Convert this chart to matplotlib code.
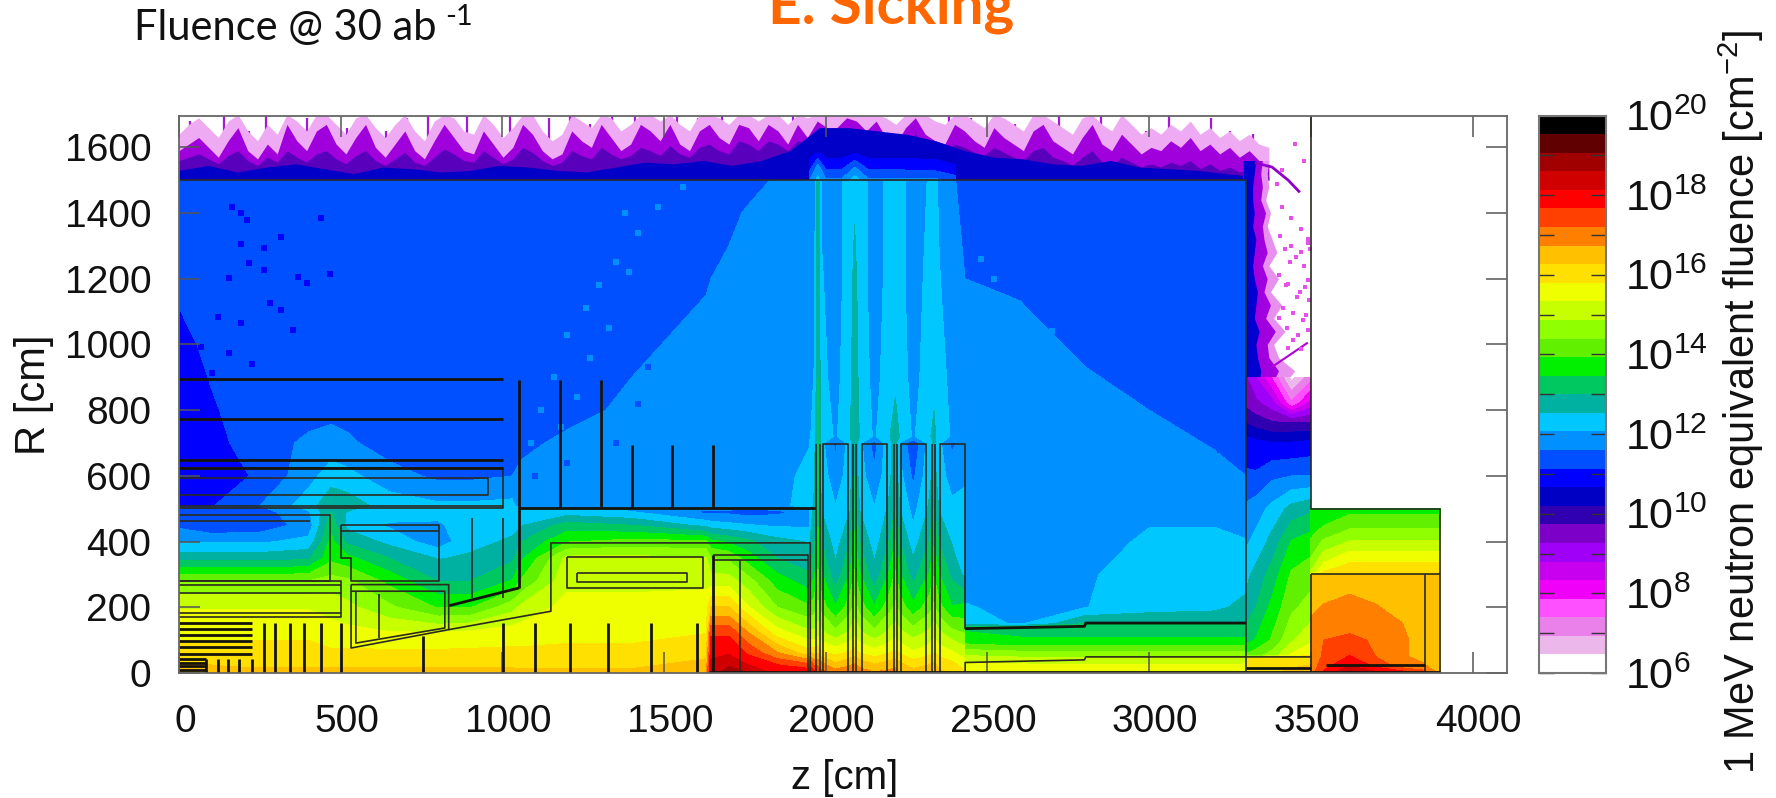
import numpy as np
import matplotlib
matplotlib.use('Agg')
from matplotlib import pyplot as plt
from matplotlib import transforms
from matplotlib.colors import ListedColormap, BoundaryNorm

plt.rcParams['font.family'] = ['Liberation Sans', 'DejaVu Sans']

# colour scale, 30 bands from 1e6 to 1e20
band_colors = ['#ffffff', '#ecb8ec', '#ea80ea', '#ff50ff', '#f000f8', '#c800f0', '#a000f8', '#7c00c8',
               '#3000b0', '#0000c4', '#0000ff', '#0050ff', '#0090ff', '#00c8ff', '#00b0a0', '#00c860',
               '#00f000', '#60f000', '#90ff00', '#c8ff00', '#f0ff00', '#ffe000', '#ffc000', '#ff8000',
               '#ff4000', '#ff0000', '#d00000', '#a00000', '#600000', '#000000']
levels = np.linspace(6, 20, 31)
cmap = ListedColormap(band_colors)
norm = BoundaryNorm(levels, cmap.N)

# log10(fluence), z 0..1950
zA = [0, 100, 250, 400, 470, 520, 650, 800, 900, 1030, 1060, 1200, 1400, 1630, 1645, 1700, 1760, 1850, 1950]
rA = [0, 20, 60, 120, 200, 280, 350, 400, 450, 490, 510, 600, 700, 800, 1000, 1200, 1400, 1500]
vA = [
    [16.7, 16.6, 16.5, 16.5, 16.5, 16.5, 16.5, 16.5, 16.5, 16.5, 16.4, 16.4, 16.4, 16.6, 18.4, 18.8, 18.6, 18.0, 18.0],
    [16.4, 16.3, 16.2, 16.2, 16.2, 16.2, 16.2, 16.2, 16.2, 16.2, 16.2, 16.2, 16.2, 16.5, 18.3, 18.6, 18.2, 17.8, 17.5],
    [16.0, 16.0, 16.0, 16.0, 15.9, 15.9, 15.9, 15.9, 15.9, 15.9, 15.9, 15.9, 15.9, 16.1, 18.0, 18.1, 17.6, 16.8, 16.0],
    [15.7, 15.7, 15.7, 15.7, 15.5, 15.5, 15.4, 15.4, 15.5, 15.6, 15.6, 15.7, 15.7, 15.8, 17.6, 17.6, 16.8, 15.6, 15.0],
    [15.3, 15.3, 15.3, 15.3, 15.2, 15.0, 14.5, 13.9, 13.9, 14.7, 15.0, 15.5, 15.5, 15.6, 16.3, 16.3, 15.4, 14.4, 14.0],
    [14.4, 14.4, 14.4, 14.4, 14.6, 14.5, 13.8, 13.0, 13.0, 13.5, 14.0, 15.2, 15.2, 15.2, 15.1, 15.1, 14.6, 13.7, 13.2],
    [12.8, 12.8, 12.8, 12.9, 13.8, 13.6, 13.0, 12.5, 12.6, 12.9, 13.4, 15.0, 15.0, 14.9, 14.4, 14.3, 13.7, 13.0, 12.7],
    [12.0, 12.0, 12.0, 12.2, 13.6, 12.9, 12.4, 11.8, 12.4, 12.6, 13.0, 13.9, 14.1, 14.0, 13.6, 13.4, 13.1, 12.7, 12.5],
    [11.5, 11.2, 11.3, 11.8, 13.3, 12.4, 12.0, 12.0, 12.3, 12.4, 12.5, 13.2, 13.0, 12.4, 12.3, 12.2, 12.1, 12.0, 12.0],
    [11.4, 11.4, 11.4, 12.0, 13.0, 12.5, 12.3, 12.2, 12.3, 12.3, 12.3, 12.3, 12.1, 11.5, 11.5, 11.5, 11.4, 11.5, 11.8],
    [11.1, 11.1, 11.6, 12.3, 12.9, 12.8, 12.3, 12.15, 12.15, 12.2, 11.7, 11.85, 11.85, 11.85, 11.85, 11.85, 11.85, 11.9, 12.3],
    [10.9, 10.9, 11.2, 11.9, 12.3, 12.2, 11.8, 11.5, 11.5, 11.6, 11.7, 11.85, 11.85, 11.85, 11.85, 11.85, 11.85, 11.9, 12.2],
    [10.9, 11.0, 11.35, 11.7, 11.8, 11.7, 11.35, 11.35, 11.35, 11.4, 11.5, 11.7, 11.85, 11.85, 11.85, 11.85, 11.85, 11.9, 12.05],
    [10.9, 11.1, 11.3, 11.4, 11.45, 11.4, 11.35, 11.35, 11.35, 11.35, 11.35, 11.45, 11.7, 11.85, 11.85, 11.85, 11.85, 11.9, 12.0],
    [11.05, 11.2, 11.3, 11.3, 11.35, 11.35, 11.35, 11.35, 11.35, 11.35, 11.35, 11.4, 11.5, 11.75, 11.75, 11.8, 11.85, 11.85, 11.9],
    [11.2, 11.25, 11.3, 11.3, 11.35, 11.35, 11.35, 11.35, 11.35, 11.35, 11.35, 11.35, 11.4, 11.55, 11.6, 11.7, 11.75, 11.85, 11.9],
    [11.2, 11.25, 11.3, 11.35, 11.35, 11.35, 11.35, 11.35, 11.35, 11.35, 11.35, 11.35, 11.35, 11.35, 11.4, 11.5, 11.65, 11.8, 11.85],
    [11.2, 11.3, 11.35, 11.35, 11.35, 11.35, 11.35, 11.35, 11.35, 11.35, 11.35, 11.35, 11.35, 11.35, 11.35, 11.35, 11.45, 11.65, 11.85],
]

# toroid gaps and boxes
zB = [1950, 1965, 1976, 1987, 2030, 2075, 2089, 2105, 2150, 2195, 2215, 2230, 2270, 2320, 2335, 2350, 2390, 2431]
rB = [0, 30, 70, 120, 200, 300, 400, 500, 600, 700, 720, 900, 1200, 1500]
vB = [
    [18.0, 17.8, 17.7, 17.4, 17.0, 17.1, 17.2, 17.0, 16.8, 16.9, 17.0, 16.7, 16.5, 16.6, 16.6, 16.4, 16.2, 15.9],
    [17.5, 17.0, 17.0, 16.8, 16.3, 16.6, 16.7, 16.5, 16.2, 16.4, 16.5, 16.3, 16.0, 16.2, 16.3, 16.1, 15.9, 15.5],
    [16.0, 15.9, 16.0, 15.7, 15.5, 15.7, 15.9, 15.6, 15.4, 15.6, 15.8, 15.6, 15.3, 15.5, 15.7, 15.5, 15.3, 15.0],
    [15.0, 15.0, 15.2, 15.0, 14.6, 15.0, 15.2, 15.0, 14.6, 15.0, 15.2, 15.0, 14.7, 15.0, 15.2, 15.0, 14.6, 14.4],
    [14.0, 14.2, 14.5, 14.2, 13.5, 14.2, 14.6, 14.2, 13.5, 14.2, 14.5, 14.2, 13.6, 14.2, 14.5, 14.1, 13.5, 13.6],
    [13.1, 13.4, 14.0, 13.5, 12.7, 13.5, 14.0, 13.5, 12.7, 13.5, 14.0, 13.5, 12.8, 13.5, 13.9, 13.5, 12.9, 12.4],
    [12.5, 12.9, 13.6, 13.0, 12.3, 13.0, 13.6, 13.0, 12.3, 13.0, 13.5, 13.0, 12.3, 13.0, 13.4, 13.0, 12.5, 12.3],
    [12.4, 12.6, 13.3, 12.5, 12.1, 12.5, 13.2, 12.5, 12.1, 12.6, 13.0, 12.5, 11.9, 12.6, 13.0, 12.5, 12.2, 12.2],
    [12.2, 12.5, 13.1, 12.3, 11.8, 12.3, 13.0, 12.3, 11.7, 12.4, 12.8, 12.2, 11.5, 12.4, 12.7, 12.3, 11.85, 12.0],
    [12.1, 12.4, 13.1, 12.2, 11.5, 12.3, 12.9, 12.2, 11.4, 12.4, 12.7, 12.0, 11.2, 12.3, 12.6, 12.2, 11.5, 11.85],
    [12.0, 12.3, 13.1, 12.4, 12.0, 12.5, 12.9, 12.5, 12.0, 12.5, 12.7, 12.5, 12.0, 12.5, 12.6, 12.4, 12.0, 11.85],
    [11.9, 12.1, 13.0, 12.2, 11.9, 12.4, 12.8, 12.4, 11.9, 12.3, 12.45, 12.3, 11.9, 12.3, 12.45, 12.3, 11.9, 11.8],
    [11.85, 11.95, 12.9, 12.1, 11.85, 12.3, 12.7, 12.3, 11.85, 12.2, 12.4, 12.2, 11.85, 12.2, 12.4, 12.1, 11.8, 11.6],
    [11.85, 11.9, 12.8, 12.0, 11.85, 12.3, 12.4, 12.3, 11.85, 12.2, 12.3, 12.2, 11.85, 12.1, 12.2, 12.0, 11.7, 11.35],
]

# big hall and shaft to the right of the boxes
zC = [2431, 2600, 2800, 3000, 3200, 3300]
rC = [0, 30, 60, 90, 140, 150, 200, 300, 400, 500, 600, 800, 1000, 1200, 1500]
vC = [
    [15.9, 15.7, 15.6, 15.6, 15.6, 15.7],
    [15.4, 15.3, 15.3, 15.3, 15.3, 15.3],
    [14.7, 14.6, 14.6, 14.6, 14.6, 14.6],
    [13.9, 13.7, 13.7, 13.7, 13.7, 13.7],
    [13.3, 13.1, 13.1, 13.1, 13.1, 13.1],
    [12.3, 12.0, 13.0, 13.0, 13.0, 13.0],
    [12.1, 11.95, 12.05, 12.3, 12.4, 12.7],
    [11.85, 11.85, 12.0, 12.3, 12.3, 12.3],
    [11.85, 11.85, 11.85, 12.15, 12.2, 12.1],
    [11.85, 11.85, 11.85, 11.95, 11.9, 11.7],
    [11.85, 11.85, 11.85, 11.8, 11.7, 11.6],
    [11.85, 11.8, 11.7, 11.6, 11.45, 11.35],
    [11.8, 11.7, 11.55, 11.4, 11.3, 11.3],
    [11.6, 11.55, 11.4, 11.3, 11.3, 11.3],
    [11.35, 11.3, 11.3, 11.3, 11.3, 11.2],
]

zD = [3300, 3330, 3380, 3440, 3500]
rD = [0, 45, 55, 100, 200, 300, 400, 500, 600, 700, 760, 820, 900]
vD = [
    [15.9, 16.0, 16.2, 16.4, 16.6],
    [15.8, 15.8, 15.9, 16.0, 16.0],
    [14.0, 14.2, 14.6, 15.4, 15.8],
    [13.3, 13.5, 14.0, 14.8, 15.2],
    [12.7, 13.0, 13.6, 14.3, 14.6],
    [12.4, 12.7, 13.2, 14.0, 14.2],
    [12.0, 12.2, 12.7, 13.5, 13.7],
    [11.7, 11.85, 12.2, 12.7, 12.9],
    [11.2, 11.2, 11.5, 11.6, 11.6],
    [10.9, 10.8, 10.7, 10.7, 10.8],
    [10.2, 10.0, 9.8, 9.8, 9.8],
    [9.6, 9.4, 9.0, 7.5, 8.5],
    [9.3, 8.8, 7.8, 6.3, 7.2],
]

# forward block
zF = [3500, 3540, 3620, 3700, 3780, 3850, 3900]
rF = [0, 20, 50, 100, 150, 220, 295, 305, 325, 360, 400, 430, 475, 500]
vF = [
    [17.0, 17.8, 18.8, 18.3, 18.0, 17.5, 16.6],
    [16.9, 17.5, 18.2, 17.6, 17.0, 16.8, 16.5],
    [16.8, 17.3, 17.7, 17.2, 16.8, 16.6, 16.5],
    [16.85, 17.2, 17.3, 17.15, 16.85, 16.5, 16.4],
    [16.8, 16.95, 17.05, 16.95, 16.75, 16.45, 16.4],
    [16.6, 16.7, 16.8, 16.7, 16.5, 16.4, 16.4],
    [16.4, 16.45, 16.55, 16.45, 16.4, 16.35, 16.35],
    [15.0, 15.9, 16.1, 16.1, 16.1, 16.1, 16.1],
    [14.7, 15.5, 15.95, 15.95, 15.95, 15.95, 15.95],
    [14.3, 15.0, 15.5, 15.5, 15.5, 15.5, 15.5],
    [14.0, 14.5, 14.9, 14.9, 14.9, 14.9, 14.9],
    [13.8, 14.1, 14.5, 14.5, 14.5, 14.5, 14.5],
    [13.6, 13.7, 14.0, 14.0, 14.0, 14.0, 14.0],
    [13.5, 13.6, 13.8, 13.8, 13.8, 13.8, 13.8],
]

# bumps above the gaps, just over the hall ceiling
zG = [1950, 1975, 2000, 2050, 2090, 2130, 2200, 2340, 2400]
rG = [1500, 1540, 1580]
vG = [
    [11.6, 12.2, 11.7, 11.7, 12.3, 11.7, 11.7, 11.7, 11.4],
    [10.9, 11.8, 11.0, 11.0, 11.6, 11.0, 11.0, 10.9, 10.7],
    [10.5, 10.8, 10.5, 10.5, 10.7, 10.5, 10.5, 10.5, 10.5],
]

# upper edge of the particle fringe over the ceiling, z 0..3370
fringe_pink = [1640, 1670, 1690, 1660, 1630, 1680, 1700, 1650, 1620, 1670, 1640, 1700, 1680, 1650, 1700, 1700, 1670,
               1640, 1690, 1700, 1660, 1630, 1670, 1700, 1650, 1620, 1680, 1700, 1690, 1650, 1640, 1700, 1670, 1630,
               1660, 1700, 1700, 1650, 1620, 1640, 1700, 1680, 1660, 1700, 1690, 1650, 1670, 1700, 1700, 1680, 1700,
               1670, 1650, 1700, 1700, 1690, 1670, 1700, 1700, 1680, 1700, 1700, 1670, 1700, 1690, 1700, 1700, 1700,
               1700, 1700, 1700, 1700, 1690, 1670, 1700, 1700, 1700, 1680, 1670, 1700, 1700, 1680, 1660, 1700, 1690,
               1670, 1650, 1700, 1700, 1680, 1660, 1640, 1690, 1700, 1670, 1650, 1700, 1670, 1640, 1660, 1640, 1670,
               1650, 1680, 1640, 1660, 1630, 1650, 1620, 1640, 1610, 1600]
fringe_purple = [1590, 1610, 1630, 1600, 1570, 1620, 1660, 1590, 1565, 1610, 1580, 1670, 1620, 1590, 1650, 1670, 1610,
                 1580, 1630, 1670, 1600, 1570, 1610, 1650, 1590, 1565, 1620, 1670, 1630, 1590, 1580, 1650, 1610, 1570,
                 1600, 1670, 1640, 1590, 1565, 1580, 1650, 1620, 1600, 1670, 1630, 1590, 1610, 1670, 1650, 1620, 1670,
                 1610, 1590, 1650, 1670, 1630, 1610, 1670, 1660, 1620, 1670, 1650, 1610, 1670, 1630, 1680, 1660, 1660,
                 1690, 1680, 1650, 1680, 1630, 1610, 1660, 1690, 1640, 1620, 1610, 1670, 1650, 1620, 1600, 1660, 1630,
                 1610, 1590, 1650, 1670, 1620, 1600, 1580, 1630, 1670, 1610, 1590, 1640, 1610, 1580, 1600, 1590, 1620,
                 1600, 1630, 1590, 1610, 1580, 1600, 1570, 1590, 1560, 1550]
fringe_violet = [1560, 1570, 1580, 1565, 1550, 1575, 1590, 1560, 1545, 1570, 1555, 1590, 1570, 1555, 1580, 1590, 1565,
                 1550, 1575, 1590, 1560, 1545, 1565, 1585, 1555, 1545, 1570, 1595, 1580, 1560, 1555, 1590, 1570, 1550,
                 1565, 1600, 1585, 1560, 1545, 1555, 1590, 1575, 1565, 1600, 1580, 1565, 1575, 1600, 1590, 1575, 1605,
                 1580, 1570, 1600, 1610, 1590, 1580, 1620, 1610, 1590, 1620, 1610, 1590, 1620, 1610, 1640, 1630, 1640,
                 1660, 1650, 1630, 1650, 1610, 1590, 1620, 1640, 1610, 1590, 1585, 1610, 1600, 1585, 1575, 1600, 1585,
                 1570, 1560, 1590, 1600, 1570, 1560, 1545, 1570, 1590, 1555, 1545, 1570, 1555, 1540, 1550, 1540, 1555,
                 1545, 1560, 1535, 1550, 1530, 1540, 1525, 1530, 1520, 1510]
fringe_blue = [1530, 1545, 1525, 1540, 1550, 1535, 1520, 1540, 1535, 1525, 1530, 1545, 1540, 1530, 1525, 1540, 1555,
               1550, 1560, 1545, 1560, 1590, 1660, 1660, 1650, 1640, 1620, 1590, 1570, 1565, 1550, 1545, 1560, 1540,
               1535, 1530, 1520, 1510]
spike_z = [35, 90, 140, 215, 270, 335, 395, 450, 520, 575, 640, 705, 770, 835, 890, 960, 1025, 1080, 1145, 1210, 1270,
           1340, 1410, 1475, 1540, 1605, 1680, 1750, 1825, 1900, 2120, 2270, 2380, 2450, 2520, 2585, 2650, 2720, 2785,
           2850, 2920, 2990, 3060, 3130, 3190, 3250, 3320]
spike_top = [1680, 1660, 1700, 1650, 1700, 1670, 1690, 1700, 1660, 1700, 1650, 1690, 1700, 1670, 1700, 1660, 1700,
             1680, 1690, 1700, 1670, 1700, 1700, 1680, 1700, 1690, 1700, 1700, 1680, 1700, 1700, 1700, 1700, 1690,
             1700, 1670, 1700, 1700, 1660, 1700, 1680, 1650, 1700, 1640, 1690, 1650, 1640]
spike_base = [1600, 1600, 1610, 1590, 1610, 1600, 1600, 1610, 1590, 1610, 1590, 1600, 1610, 1600, 1620, 1600, 1620,
              1620, 1620, 1630, 1610, 1630, 1640, 1630, 1640, 1640, 1640, 1650, 1640, 1650, 1660, 1650, 1640, 1640,
              1630, 1620, 1620, 1620, 1610, 1620, 1610, 1600, 1610, 1590, 1600, 1590, 1580]

# fringe along the outer wall of the hall, right edge in z for R 880..1560
side_blue = [3340, 3345, 3335, 3330, 3340, 3325, 3330, 3335, 3325, 3320, 3325, 3330, 3320, 3325, 3320, 3320, 3325, 3330]
side_purple = [3380, 3400, 3370, 3365, 3390, 3360, 3375, 3355, 3365, 3350, 3365, 3355, 3350, 3360, 3345, 3350, 3345, 3350]
side_pink = [3420, 3450, 3400, 3385, 3420, 3385, 3410, 3375, 3400, 3370, 3395, 3380, 3365, 3375, 3360, 3370, 3365, 3370]
spur_z = [3331, 3380, 3430, 3463]
spur_r = [1552, 1540, 1500, 1466]
spur2_z = [3379, 3430, 3488]
spur2_r = [931, 965, 1004]
dots_z = [3410, 3440, 3470, 3490, 3420, 3455, 3480, 3400, 3430, 3465, 3495, 3415, 3445, 3475, 3425, 3460, 3490, 3405,
          3435, 3485, 3395, 3450, 3478, 3412, 3468, 3497, 3438, 3422, 3458, 3483, 3402, 3445, 3492, 3470, 3430, 3490]
dots_r = [1420, 1385, 1350, 1310, 1290, 1265, 1240, 1210, 1185, 1160, 1135, 1110, 1095, 1075, 1050, 1030, 1195, 1330,
          1250, 1090, 1490, 1610, 1560, 1530, 1280, 1290, 1300, 1180, 1145, 1175, 1080, 1015, 1045, 985, 990, 1320]

# single blue cells in the upper left and along the colour edges
dark_z = [192, 165, 209, 440, 316, 192, 263, 218, 263, 467, 369, 396, 156, 121, 192, 280, 316, 351, 67, 156, 227, 103]
dark_r = [1400, 1420, 1380, 1385, 1328, 1307, 1293, 1247, 1227, 1216, 1206, 1186, 1201, 1085, 1064, 1125, 1104, 1044,
          993, 973, 942, 912]
light_z = [1380, 1420, 1480, 1350, 1300, 1390, 1260, 1330, 1200, 1270, 1160, 1230, 1120, 1180, 1090, 1140, 1560, 2560,
           2620, 2700, 2680, 2760, 2840, 2900, 2960, 3040, 3100, 3180, 2480, 2520, 2640]
light_r = [1400, 1340, 1420, 1250, 1180, 1220, 1110, 1050, 1030, 960, 900, 840, 800, 750, 700, 640, 1480, 1120, 1050,
           1040, 960, 920, 870, 820, 800, 740, 690, 640, 1260, 1200, 980]
mid_z = [1560, 1620, 1700, 1500, 1450, 1420, 1350, 1200, 1100, 2510, 2580, 2650, 2730, 2810, 2880, 2960, 3060, 3140, 3220]
mid_r = [1200, 1260, 1420, 1050, 930, 820, 700, 640, 600, 1360, 1280, 1200, 1130, 1040, 960, 880, 820, 740, 680]

# detector outlines (z, R), thin and thick
thin_lines = [
    [(0, 1500), (3300, 1500), (3300, 0)],
    [(3500, 1700), (3500, 500), (3900, 500), (3900, 0)],
    [(3500, 300), (3900, 300)], [(3853, 0), (3853, 300)], [(3500, 0), (3500, 300)],
    [(0, 624), (1003, 624), (1003, 502), (0, 502)], [(0, 507), (1003, 507)],
    [(0, 594), (955, 594), (955, 543), (0, 543)],
    [(0, 482), (467, 482), (467, 281), (0, 281)], [(0, 462), (405, 462)],
    [(0, 279), (502, 279), (502, 170), (0, 170)], [(0, 269), (502, 269)], [(0, 244), (502, 244)], [(0, 183), (502, 183)],
    [(502, 452), (804, 452), (804, 281), (532, 281), (532, 349), (502, 349), (502, 452)], [(502, 431), (804, 431)],
    [(532, 269), (834, 269), (834, 132), (532, 76), (532, 269)],
    [(532, 249), (822, 249), (822, 137), (547, 91), (547, 249)],
    [(834, 132), (1150, 188), (1150, 396), (1952, 396), (1952, 0)],
    [(618, 107), (618, 240)],
    [(905, 228), (905, 472)], [(1003, 228), (1003, 472)],
    [(1200, 352), (1620, 352), (1620, 259), (1200, 259), (1200, 352)],
    [(1230, 305), (1571, 305), (1571, 277), (1230, 277), (1230, 305)],
    [(1652, 358), (1945, 358), (1945, 0)], [(1652, 345), (1945, 345)], [(1736, 0), (1736, 345)],
    [(1969, 0), (1969, 697)], [(1983, 0), (1983, 697)],
    [(1992, 0), (1992, 697), (2069, 697), (2069, 0)], [(2084, 0), (2084, 697)], [(2094, 0), (2094, 697)],
    [(2112, 0), (2112, 697), (2190, 697), (2190, 0)], [(2210, 0), (2210, 697)], [(2220, 0), (2220, 697)],
    [(2233, 0), (2233, 697), (2311, 697), (2311, 0)], [(2330, 0), (2330, 697)], [(2339, 0), (2339, 697)],
    [(2353, 0), (2353, 697), (2431, 697), (2431, 135)],
    [(2431, 0), (2431, 32), (2800, 40), (2804, 49), (3500, 49)],
]
thick_lines = [
    [(0, 896), (1003, 896)], [(0, 773), (1003, 773)], [(0, 648), (1003, 648)], [(0, 624), (1003, 624)],
    [(1052, 259), (1052, 893)], [(1177, 503), (1177, 893)], [(1305, 503), (1305, 893)],
    [(1402, 503), (1402, 695)], [(1526, 503), (1526, 695)], [(1652, 503), (1652, 695)],
    [(1052, 503), (1967, 503)], [(836, 205), (1052, 259)],
    [(0, 152), (227, 152)], [(0, 135), (227, 135)], [(0, 117), (227, 117)],
    [(0, 96), (227, 96)], [(0, 78), (227, 78)], [(0, 58), (227, 58)],
    [(0, 44), (85, 44)], [(0, 30), (85, 30)], [(0, 20), (85, 20)], [(0, 10), (85, 10)],
    [(85, 0), (85, 44)], [(120, 0), (120, 44)], [(153, 0), (153, 44)], [(186, 0), (186, 44)], [(227, 0), (227, 44)],
    [(263, 0), (263, 152)], [(298, 0), (298, 152)], [(343, 0), (343, 152)], [(387, 0), (387, 152)],
    [(440, 0), (440, 152)], [(502, 0), (502, 152)], [(754, 0), (754, 112)], [(1003, 0), (1003, 152)],
    [(1100, 0), (1100, 152)], [(1209, 0), (1209, 152)], [(1328, 0), (1328, 152)], [(1461, 0), (1461, 152)],
    [(1603, 0), (1603, 152)], [(1652, 0), (1652, 358)],
    [(2431, 135), (2800, 142), (2804, 152), (3300, 152)],
    [(3300, 15), (3500, 15)], [(3547, 23), (3853, 23)], [(1640, 2), (3900, 2)],
]

# ticks and labels
z_ticks = [0, 500, 1000, 1500, 2000, 2500, 3000, 3500, 4000]
r_ticks = [0, 200, 400, 600, 800, 1000, 1200, 1400, 1600]
cb_ticks = [6, 7, 8, 9, 10, 11, 12, 13, 14, 15, 16, 17, 18, 19, 20]

W, H = 1776, 798
fig = plt.figure(figsize=(W / 100, H / 100), dpi=100)
ax = fig.add_axes([179 / W, 1 - 673 / H, (1506.5 - 179) / W, (673 - 115.5) / H])

# fringes first, then the field on top
zf = np.linspace(0, 3370, len(fringe_pink))
ax.vlines(spike_z, spike_base, spike_top, color='#a818d8', lw=1.6, zorder=1)
ax.fill_between(zf, 1500, fringe_pink, color='#eeaaf2', lw=0, zorder=1)
ax.fill_between(zf, 1500, fringe_purple, color='#a000dc', lw=0, zorder=1)
ax.fill_between(zf, 1500, fringe_violet, color='#5800bc', lw=0, zorder=1)
ax.fill_between(np.linspace(0, 3330, len(fringe_blue)), 1500, fringe_blue, color='#0000c8', lw=0, zorder=1)

rs = np.linspace(880, 1560, len(side_pink))
ax.fill_betweenx(rs, 3290, side_pink, color='#e890ee', lw=0, zorder=1)
ax.fill_betweenx(rs, 3290, side_purple, color='#a000e0', lw=0, zorder=1)
ax.fill_betweenx(rs, 3290, side_blue, color='#0000d0', lw=0, zorder=1)
ax.plot(spur_z, spur_r, color='#9000c8', lw=2, zorder=1)
ax.plot(spur2_z, spur2_r, color='#b000d8', lw=1.5, zorder=1)
ax.scatter(dots_z, dots_r, s=7, marker='s', color='#e850ee', lw=0, zorder=1)

for z, r, v in [(zA, rA, vA), (zB, rB, vB), (zC, rC, vC), (zD, rD, vD), (zF, rF, vF), (zG, rG, vG)]:
    ax.contourf(z, r, np.array(v), levels=levels, cmap=cmap, norm=norm, zorder=1.5)

ax.scatter(dark_z, dark_r, s=22, marker='s', color='#0000ff', lw=0, zorder=2)
ax.scatter(light_z, light_r, s=22, marker='s', color='#0090ff', lw=0, zorder=2)
ax.scatter(mid_z, mid_r, s=22, marker='s', color='#0050ff', lw=0, zorder=2)

for p in thin_lines:
    ax.plot(*zip(*p), color='#2a2a20', lw=1.2, zorder=3, solid_capstyle='butt')
for p in thick_lines:
    ax.plot(*zip(*p), color='#14140c', lw=2.0, zorder=3, solid_capstyle='butt')

ax.set_xlim(0, 4105)
ax.set_ylim(0, 1697)
ax.set_axisbelow(False)
ax.set_xticks(z_ticks)
ax.set_yticks(r_ticks)
ax.tick_params(direction='in', length=15, width=1.1, color='#555555', top=True, right=True,
               labelsize=28, labelcolor='#111111')
ax.tick_params(axis='x', pad=22)
ax.tick_params(axis='y', pad=20)
for s in ax.spines.values():
    s.set_color('#666666')
    s.set_linewidth(1.3)
    s.set_zorder(4)
# gnuplot labels sit slightly right of their ticks
shift = transforms.ScaledTranslation(6 / 100, 0, fig.dpi_scale_trans)
for lab in ax.get_xticklabels():
    lab.set_transform(lab.get_transform() + shift)

fig.text(845 / W, 1 - 778 / H, 'z [cm]', fontsize=29, ha='center', va='center', color='#111111')
fig.text(34 / W, 1 - 395 / H, 'R [cm]', fontsize=30, rotation=90, ha='center', va='center', color='#111111')

# colour bar
cax = fig.add_axes([1539 / W, 1 - 673 / H, (1606 - 1539) / W, (673 - 115.5) / H])
cax.pcolormesh([0, 1], levels, (levels[:-1] + levels[1:])[:, None] / 2, cmap=cmap, norm=norm)
cax.set_xticks([])
cax.set_yticks(cb_ticks)
cax.set_yticklabels([r'$\mathregular{10^{%d}}$' % t if t % 2 == 0 else '' for t in cb_ticks])
cax.tick_params(axis='y', direction='in', length=11, width=1.0, color='#333333', left=True, right=True,
                labelleft=False, labelright=True, labelsize=31, pad=14, labelcolor='#111111')
for s in cax.spines.values():
    s.set_color('#777777')
    s.set_linewidth(1.5)
fig.text(1741 / W, 1 - 402 / H, r'1 MeV neutron equivalent fluence [cm$\mathregular{^{-2}}$]', fontsize=30,
         rotation=90, ha='center', va='center', color='#111111')

# slide text
fig.text(134 / W, 1 - 40 / H, 'Fluence @ 30 ab', family='Lato', fontsize=30, va='baseline', color='#111111')
fig.text(445 / W, 1 - 25 / H, '-1', family='Lato', fontsize=21, va='baseline', color='#111111')
fig.text(768 / W, 1 - 24 / H, 'E. Sicking', family='Lato', fontweight='bold', fontsize=42, va='baseline', color='#ff6600')

fig.savefig('out.png', dpi=100)
